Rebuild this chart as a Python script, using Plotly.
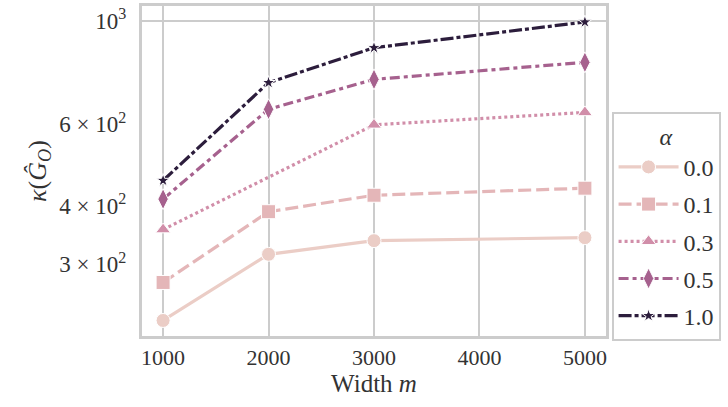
import plotly.graph_objects as go

alphas = ["0.0", "0.1", "0.3", "0.5", "1.0"]
x_by_alpha = {
    "0.0": [1000, 2000, 3000, 5000],
    "0.1": [1000, 2000, 3000, 5000],
    "0.3": [1000, 3000, 5000],
    "0.5": [1000, 2000, 3000, 5000],
    "1.0": [1000, 2000, 3000, 5000],
}
y_by_alpha = {
    "0.0": [227, 315, 337, 342],
    "0.1": [274, 389, 422, 437],
    "0.3": [356, 598, 636],
    "0.5": [414, 646, 749, 815],
    "1.0": [454, 737, 876, 995],
}
ytick_vals = [300, 400, 600, 1000]
ytick_text = ["3 × 10<sup>2</sup>", "4 × 10<sup>2</sup>", "6 × 10<sup>2</sup>", "10<sup>3</sup>"]
xtick_vals = [1000, 2000, 3000, 4000, 5000]

colors = {"0.0": "#ebcdc6", "0.1": "#e4b6b8", "0.3": "#d18ea9", "0.5": "#a6618e", "1.0": "#2c1d3c"}
symbols = {"0.0": "circle", "0.1": "square", "0.3": "triangle-up", "0.5": "diamond-tall", "1.0": "star"}
sizes = {"0.0": 14, "0.1": 14, "0.3": 13, "0.5": 15, "1.0": 10}
dashes = {"0.0": "solid", "0.1": "13px,5px", "0.3": "3px,3px", "0.5": "10px,4px,4px,4px", "1.0": "13px,3px,4px,3px"}

font = "Liberation Serif"
fig = go.Figure()
for a in alphas:
    fig.add_trace(go.Scatter(
        x=x_by_alpha[a], y=y_by_alpha[a], name=a, mode="lines+markers", legendgroup=a,
        line=dict(color=colors[a], width=3.2, dash=dashes[a]),
        marker=dict(symbol=symbols[a], size=sizes[a], color=colors[a],
                    line=dict(color="white", width=1)),
    ))

fig.add_shape(type="line", xref="paper", yref="y", x0=0, x1=1, y0=1000, y1=1000,
              line=dict(color="#cccccc", width=2), layer="below")

fig.update_layout(
    width=728, height=407,
    margin=dict(l=142, r=122, t=6, b=71, autoexpand=False),
    paper_bgcolor="white", plot_bgcolor="white",
    font=dict(family=font, size=22, color="#333333"),
    showlegend=True,
    legend=dict(
        title=dict(text="<i>α</i>", side="top center", font=dict(size=24)),
        x=1.012, y=0.68, xanchor="left", yanchor="top",
        bordercolor="#cccccc", borderwidth=2, bgcolor="white",
        font=dict(size=24), itemwidth=60, tracegroupgap=3,
    ),
    xaxis=dict(
        range=[800, 5200], tickvals=xtick_vals, showgrid=True, gridcolor="#cccccc", gridwidth=2,
        showline=True, linecolor="#cccccc", linewidth=3, mirror=True, zeroline=False,
        ticks="", tickfont=dict(size=22), automargin=False,
        title=dict(text="Width <i>m</i>", font=dict(size=25), standoff=2),
    ),
    yaxis=dict(
        type="log", range=[2.3226, 3.0323], tickvals=ytick_vals, ticktext=ytick_text,
        showgrid=False, showline=True, linecolor="#cccccc", linewidth=3, mirror=True,
        zeroline=False, ticks="", tickfont=dict(size=23), automargin=False,
        ticklabelstandoff=8,
        title=dict(text="<i>κ</i>(<i>Ĝ</i><sub><i>O</i></sub>)", font=dict(size=26), standoff=6),
    ),
)
fig.write_html("out.html", config={"displayModeBar": False},
               post_script="document.body.style.margin='0px';")
